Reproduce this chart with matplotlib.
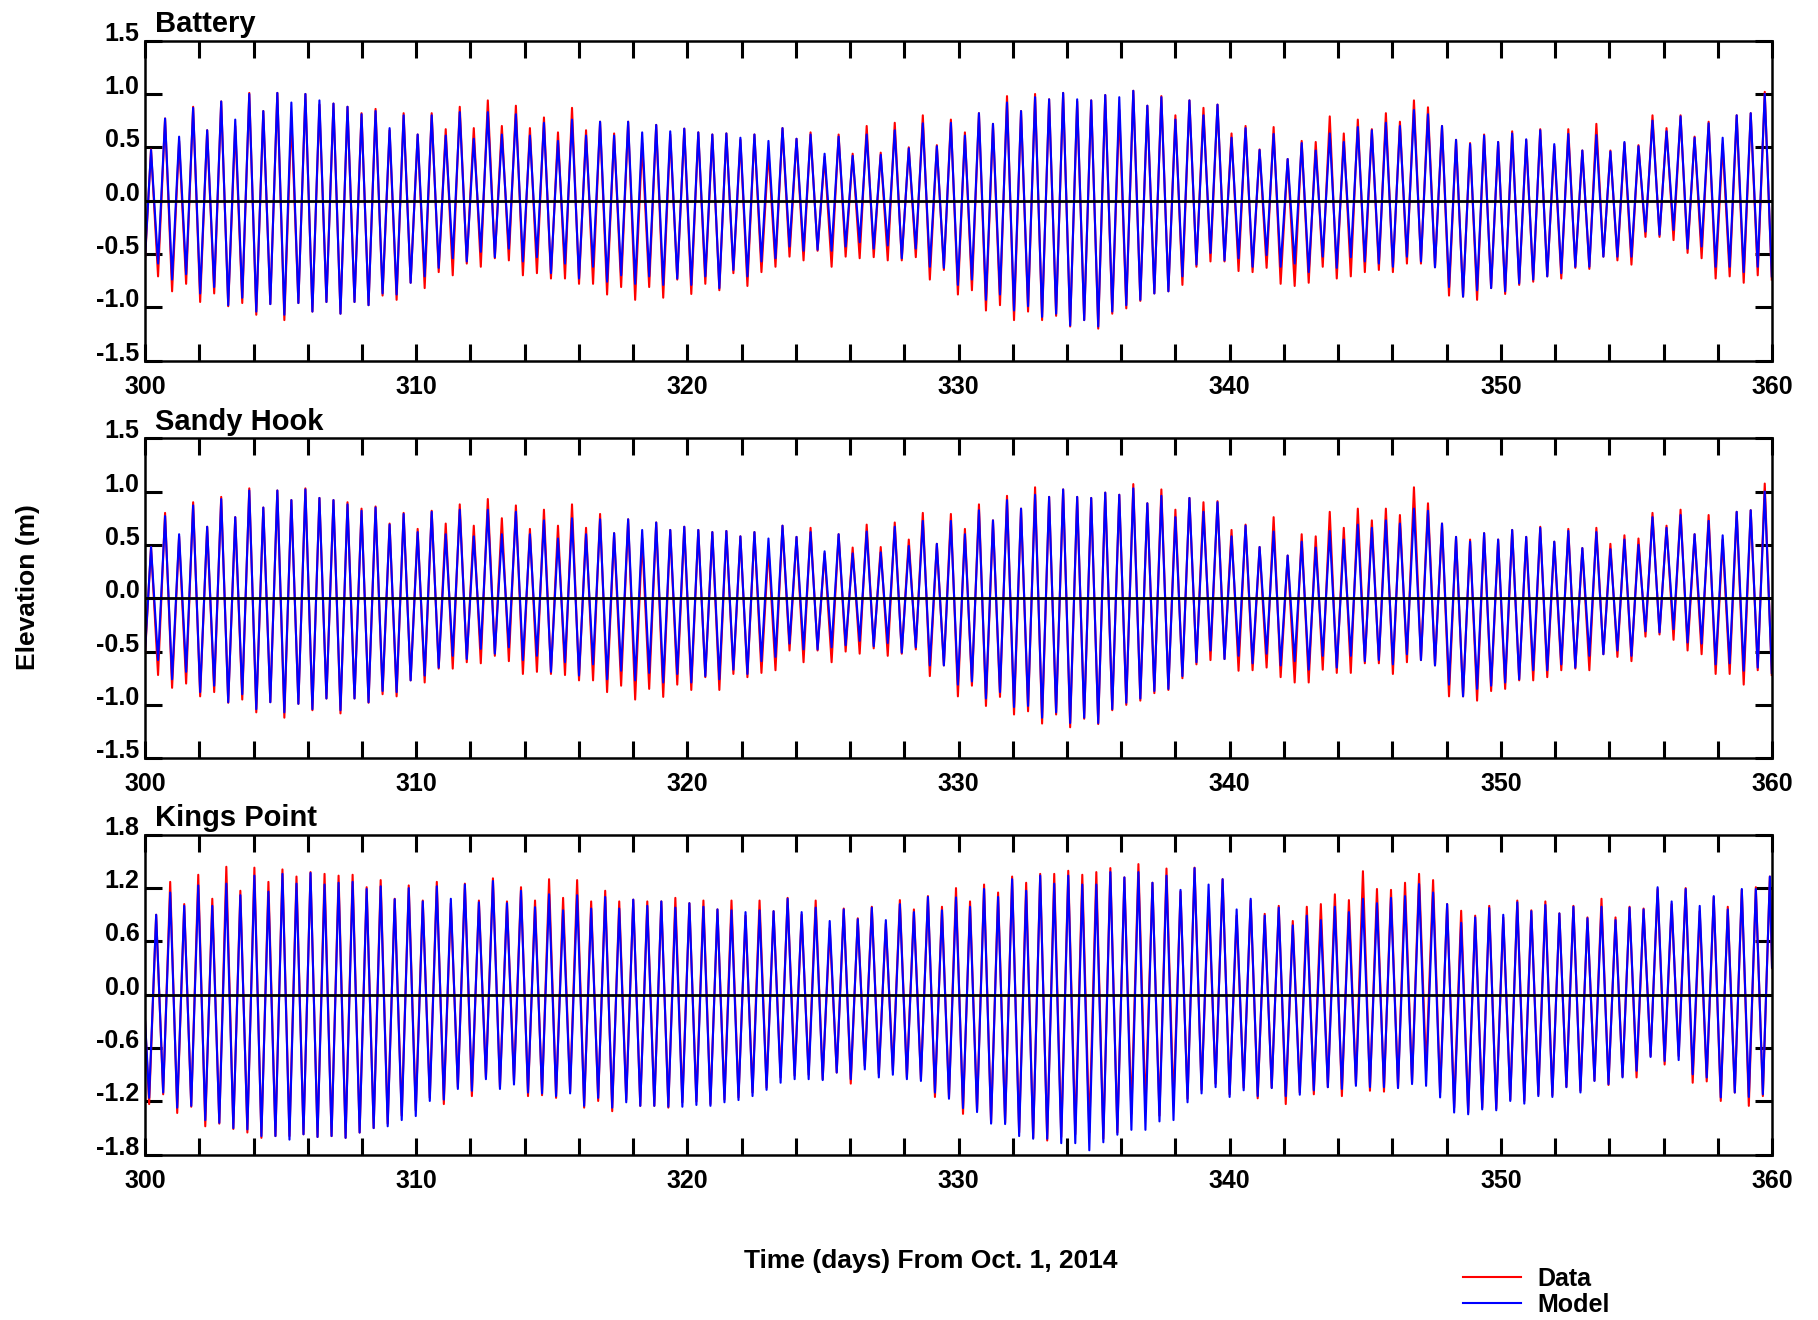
import numpy as np
import matplotlib
matplotlib.use("Agg")
import matplotlib.pyplot as plt
from matplotlib.ticker import MultipleLocator, FuncFormatter, FormatStrFormatter

plt.rcParams["font.family"] = ["Liberation Sans", "DejaVu Sans"]
plt.rcParams["font.weight"] = "bold"

# semi-diurnal (M2) period in days, high/low waters
M2 = 0.5175

# ---- Battery: first high water at day 300.22 ----
BAT_T_FIRST = 300.22
BAT_START_DATA, BAT_START_MODEL = -0.55, -0.52
BAT_HW_MODEL = [
    0.475, 0.77, 0.60, 0.87, 0.66, 0.93, 0.76, 1.00, 0.84, 1.01,
    0.92, 1.00, 0.94, 0.91, 0.88, 0.81, 0.84, 0.68, 0.80, 0.62,
    0.80, 0.61, 0.83, 0.58, 0.83, 0.62, 0.81, 0.61, 0.73, 0.56,
    0.76, 0.61, 0.74, 0.61,
    0.74, 0.64, 0.71, 0.65, 0.675, 0.64, 0.62, 0.63, 0.59,
    0.62, 0.56, 0.68, 0.58, 0.62, 0.44, 0.60, 0.42, 0.62, 0.43,
    0.66, 0.49, 0.725, 0.51, 0.73, 0.61, 0.82, 0.72, 0.92, 0.84,
    0.97, 0.95, 1.01, 0.95, 0.94, 0.99, 0.97, 1.03, 0.89, 0.97,
    0.76, 0.94, 0.80, 0.90,
    0.59, 0.68, 0.475, 0.625, 0.39, 0.54, 0.47, 0.63,
    0.55, 0.69, 0.66, 0.73, 0.70, 0.85, 0.81, 0.70, 0.57, 0.53,
    0.61, 0.55, 0.63, 0.575, 0.66, 0.53, 0.625, 0.47, 0.615, 0.46,
    0.55, 0.51, 0.75, 0.65, 0.79, 0.59, 0.725, 0.59, 0.80, 0.82,
    1.00]
BAT_HW_DATA = [
    0.48, 0.77, 0.56, 0.88, 0.66, 0.93, 0.70, 1.01, 0.84, 1.01,
    0.78, 1.00, 0.90, 0.91, 0.88, 0.82, 0.86, 0.66, 0.82, 0.62,
    0.82, 0.67, 0.88, 0.68, 0.94, 0.70, 0.89, 0.68, 0.78, 0.64,
    0.87, 0.66, 0.74, 0.63,
    0.74, 0.54, 0.71, 0.62, 0.675, 0.64, 0.62, 0.63, 0.57,
    0.62, 0.46, 0.68, 0.58, 0.64, 0.41, 0.62, 0.44, 0.70, 0.45,
    0.73, 0.50, 0.80, 0.52, 0.76, 0.64, 0.82, 0.72, 0.98, 0.84,
    1.00, 0.95, 1.01, 0.93, 0.94, 0.99, 0.85, 1.03, 0.89, 0.98,
    0.80, 0.94, 0.87, 0.90,
    0.63, 0.70, 0.48, 0.69, 0.39, 0.56, 0.55, 0.79,
    0.63, 0.76, 0.67, 0.82, 0.74, 0.94, 0.875, 0.70, 0.57, 0.54,
    0.62, 0.55, 0.65, 0.57, 0.67, 0.51, 0.67, 0.47, 0.72, 0.47,
    0.54, 0.52, 0.80, 0.68, 0.80, 0.60, 0.74, 0.53, 0.80, 0.82,
    1.02]
BAT_LW_MODEL = [
    -0.59, -0.74, -0.69, -0.87, -0.81, -0.98, -0.91, -1.04, -0.97, -1.07,
    -0.96, -1.04, -0.95, -1.06, -0.95, -0.98, -0.87, -0.88, -0.77, -0.71,
    -0.63, -0.54, -0.57, -0.48, -0.53, -0.45, -0.57, -0.53, -0.68, -0.59,
    -0.73, -0.62,
    -0.76, -0.70, -0.78, -0.71, -0.79, -0.73, -0.79, -0.71, -0.82, -0.65,
    -0.71, -0.57, -0.54, -0.43, -0.47, -0.46, -0.47, -0.43, -0.39, -0.45,
    -0.42, -0.54, -0.45, -0.62, -0.63, -0.79, -0.74, -0.93, -0.88, -1.03,
    -0.99, -1.09, -1.06, -1.17, -1.12, -1.18, -1.04, -0.98, -0.93, -0.87,
    -0.85, -0.71, -0.60, -0.49,
    -0.56, -0.54, -0.62, -0.51, -0.62, -0.59, -0.67, -0.525, -0.63, -0.53,
    -0.57, -0.59, -0.62, -0.525, -0.57, -0.625, -0.81, -0.90, -0.84, -0.82,
    -0.85, -0.775, -0.74, -0.71, -0.68, -0.62, -0.62, -0.525, -0.525, -0.525,
    -0.29, -0.32, -0.275, -0.45, -0.43, -0.62, -0.62, -0.67, -0.62, -0.71]
BAT_LW_DATA = [
    -0.71, -0.85, -0.78, -0.95, -0.87, -0.99, -0.96, -1.07, -0.97, -1.12,
    -0.96, -1.04, -0.95, -1.06, -0.95, -0.98, -0.89, -0.93, -0.77, -0.82,
    -0.67, -0.70, -0.59, -0.62, -0.54, -0.56, -0.70, -0.68, -0.73, -0.73,
    -0.78, -0.78,
    -0.88, -0.81, -0.93, -0.81, -0.91, -0.74, -0.875, -0.78, -0.84, -0.68,
    -0.80, -0.67, -0.62, -0.525, -0.56, -0.47, -0.62, -0.525, -0.54, -0.53,
    -0.56, -0.56, -0.53, -0.74, -0.65, -0.88, -0.84, -1.03, -0.98, -1.12,
    -1.04, -1.12, -1.08, -1.18, -1.12, -1.20, -1.06, -1.01, -0.94, -0.87,
    -0.85, -0.79, -0.62, -0.57,
    -0.57, -0.66, -0.67, -0.63, -0.78, -0.80, -0.77, -0.62, -0.73, -0.71,
    -0.67, -0.65, -0.67, -0.59, -0.59, -0.625, -0.89, -0.90, -0.93, -0.82,
    -0.875, -0.79, -0.76, -0.71, -0.73, -0.63, -0.64, -0.525, -0.56, -0.60,
    -0.34, -0.34, -0.37, -0.49, -0.54, -0.73, -0.71, -0.77, -0.70, -0.74]

# ---- Sandy Hook: first high water at day 300.22 ----
SH_T_FIRST = 300.22
SH_START_DATA, SH_START_MODEL = -0.52, -0.49
SH_HW_MODEL = [
    0.48, 0.77, 0.60, 0.87, 0.67, 0.93, 0.76, 1.01, 0.85, 1.01,
    0.92, 1.02, 0.94, 0.92, 0.88, 0.82, 0.85, 0.69, 0.79, 0.62,
    0.81, 0.60, 0.83, 0.58, 0.83, 0.60, 0.81, 0.60, 0.73, 0.56,
    0.75, 0.60, 0.74, 0.61,
    0.74, 0.64, 0.71, 0.64, 0.67, 0.64, 0.62, 0.63, 0.58, 0.62,
    0.56, 0.68, 0.575, 0.62, 0.44, 0.60, 0.42, 0.625, 0.43, 0.67,
    0.49, 0.725, 0.51, 0.725, 0.60, 0.825, 0.73, 0.92, 0.84, 0.97,
    0.95, 1.02, 0.95, 0.94, 0.99, 0.97, 1.03, 0.89, 0.96, 0.76,
    0.94, 0.81, 0.90,
    0.58, 0.68, 0.48, 0.625, 0.40, 0.53, 0.475, 0.63, 0.55, 0.69,
    0.66, 0.73, 0.70, 0.84, 0.82, 0.70, 0.575, 0.53, 0.61, 0.55,
    0.64, 0.575, 0.66, 0.53, 0.63, 0.47, 0.62, 0.46, 0.55, 0.50,
    0.76, 0.66, 0.78, 0.60, 0.725, 0.59, 0.81, 0.825, 1.00]
SH_HW_DATA = [
    0.48, 0.80, 0.58, 0.90, 0.67, 0.95, 0.76, 1.03, 0.85, 1.01,
    0.92, 1.03, 0.94, 0.92, 0.90, 0.84, 0.86, 0.70, 0.80, 0.65,
    0.82, 0.70, 0.88, 0.68, 0.93, 0.75, 0.87, 0.65, 0.83, 0.68,
    0.88, 0.66, 0.79, 0.61,
    0.74, 0.56, 0.71, 0.64, 0.67, 0.64, 0.62, 0.63, 0.58, 0.62,
    0.475, 0.68, 0.575, 0.66, 0.42, 0.60, 0.475, 0.69, 0.48, 0.71,
    0.55, 0.80, 0.51, 0.79, 0.65, 0.88, 0.73, 0.96, 0.84, 1.04,
    0.95, 1.02, 0.95, 0.94, 0.99, 0.97, 1.07, 0.89, 1.02, 0.83,
    0.94, 0.90, 0.91,
    0.64, 0.69, 0.48, 0.76, 0.40, 0.60, 0.58, 0.81, 0.66, 0.84,
    0.73, 0.84, 0.78, 1.04, 0.89, 0.70, 0.575, 0.55, 0.61, 0.55,
    0.64, 0.575, 0.67, 0.53, 0.65, 0.47, 0.66, 0.51, 0.59, 0.56,
    0.80, 0.68, 0.83, 0.60, 0.78, 0.55, 0.81, 0.825, 1.075]
SH_LW_MODEL = [
    -0.58, -0.76, -0.69, -0.88, -0.82, -0.975, -0.90, -1.04, -0.975, -1.07,
    -0.99, -1.04, -0.94, -1.05, -0.94, -0.975, -0.87, -0.88, -0.77, -0.725,
    -0.65, -0.54, -0.57, -0.475, -0.52, -0.46, -0.58, -0.54, -0.69, -0.60,
    -0.725, -0.62, -0.76,
    -0.68, -0.77, -0.70, -0.79, -0.71, -0.79, -0.73, -0.76, -0.67, -0.71,
    -0.59, -0.55, -0.425, -0.48, -0.48, -0.46, -0.44, -0.40, -0.45, -0.42,
    -0.51, -0.46, -0.63, -0.63, -0.81, -0.78, -0.94, -0.88, -1.02, -1.01,
    -1.12, -1.07, -1.17, -1.12, -1.17, -1.04, -0.98, -0.94, -0.87, -0.85,
    -0.73, -0.60, -0.49,
    -0.57, -0.54, -0.61, -0.52, -0.63, -0.59, -0.67, -0.54, -0.65, -0.54,
    -0.59, -0.58, -0.62, -0.525, -0.58, -0.63, -0.81, -0.92, -0.85, -0.82,
    -0.79, -0.76, -0.675, -0.675, -0.62, -0.65, -0.54, -0.525, -0.49, -0.54,
    -0.31, -0.32, -0.29, -0.415, -0.425, -0.62, -0.61, -0.68, -0.65, -0.70]
SH_LW_DATA = [
    -0.72, -0.84, -0.80, -0.92, -0.88, -0.98, -0.95, -1.07, -0.975, -1.12,
    -0.99, -1.05, -0.94, -1.08, -0.94, -0.98, -0.90, -0.92, -0.77, -0.79,
    -0.66, -0.66, -0.60, -0.61, -0.54, -0.59, -0.71, -0.69, -0.71, -0.72,
    -0.77, -0.77, -0.88,
    -0.82, -0.95, -0.85, -0.925, -0.81, -0.86, -0.74, -0.86, -0.71, -0.74,
    -0.70, -0.675, -0.49, -0.60, -0.49, -0.60, -0.50, -0.52, -0.47, -0.54,
    -0.52, -0.48, -0.73, -0.63, -0.92, -0.82, -1.01, -0.925, -1.09, -1.06,
    -1.175, -1.09, -1.21, -1.13, -1.18, -1.05, -1.00, -0.96, -0.89, -0.86,
    -0.75, -0.62, -0.58,
    -0.57, -0.68, -0.675, -0.65, -0.74, -0.79, -0.79, -0.67, -0.70, -0.70,
    -0.61, -0.61, -0.71, -0.60, -0.58, -0.63, -0.92, -0.92, -0.96, -0.87,
    -0.85, -0.77, -0.77, -0.74, -0.675, -0.66, -0.675, -0.525, -0.55, -0.59,
    -0.36, -0.34, -0.39, -0.49, -0.525, -0.71, -0.71, -0.81, -0.675, -0.72]

# ---- Kings Point: first low water at day 300.15 ----
KP_T_FIRST = 300.15
KP_START_DATA, KP_START_MODEL = -0.30, -0.29
KP_END_DATA, KP_END_MODEL = 0.30, 0.31
KP_LW_MODEL = [
    -1.16, -1.10, -1.27, -1.25, -1.41, -1.44, -1.50, -1.515, -1.59, -1.59,
    -1.63, -1.57, -1.60, -1.59, -1.61, -1.55, -1.50, -1.48, -1.41, -1.365,
    -1.195, -1.18, -1.06, -1.08, -0.95, -1.06, -1.01, -1.10, -1.11, -1.14,
    -1.11, -1.25, -1.16, -1.27,
    -1.21, -1.25, -1.25, -1.26, -1.26, -1.24, -1.25, -1.21, -1.185, -1.14,
    -1.07, -0.99, -0.95, -0.95, -0.96, -0.875, -0.95, -0.84, -0.93, -0.90,
    -0.95, -0.97, -1.10, -1.17, -1.275, -1.32, -1.45, -1.455, -1.59, -1.62,
    -1.62, -1.67, -1.67, -1.75, -1.66, -1.575, -1.52, -1.52, -1.425, -1.41,
    -1.21, -1.11, -1.04,
    -1.15, -1.075, -1.14, -1.05, -1.14, -1.125, -1.075, -1.04, -1.06, -1.025,
    -1.04, -1.04, -1.05, -1.005, -1.025, -1.155, -1.325, -1.345, -1.29, -1.30,
    -1.195, -1.225, -1.14, -1.15, -1.04, -1.10, -0.97, -1.005, -0.93, -0.855,
    -0.70, -0.745, -0.735, -0.895, -0.93, -1.155, -1.10, -1.15, -1.12]
KP_LW_DATA = [
    -1.23, -1.12, -1.33, -1.26, -1.48, -1.45, -1.51, -1.55, -1.61, -1.59,
    -1.59, -1.57, -1.60, -1.59, -1.61, -1.55, -1.50, -1.45, -1.36, -1.30,
    -1.16, -1.23, -1.04, -1.14, -0.93, -1.04, -0.97, -1.14, -1.13, -1.16,
    -1.09, -1.27, -1.195, -1.31,
    -1.18, -1.25, -1.25, -1.27, -1.21, -1.20, -1.23, -1.18, -1.155, -1.10,
    -1.045, -0.93, -0.91, -0.90, -0.95, -0.875, -1.00, -0.80, -0.89, -0.85,
    -0.93, -0.95, -1.15, -1.155, -1.34, -1.30, -1.44, -1.44, -1.55, -1.61,
    -1.64, -1.60, -1.57, -1.55, -1.62, -1.55, -1.34, -1.30, -1.36, -1.23,
    -1.17, -1.07, -1.00,
    -1.12, -1.045, -1.165, -1.045, -1.23, -1.10, -1.12, -1.04, -1.14, -1.005,
    -1.08, -1.09, -1.045, -0.99, -0.855, -1.10, -1.27, -1.325, -1.27, -1.28,
    -1.18, -1.195, -1.12, -1.13, -1.035, -1.08, -0.965, -1.015, -0.92, -0.93,
    -0.69, -0.785, -0.69, -0.99, -0.975, -1.195, -1.10, -1.25, -1.14]
KP_HW_MODEL = [
    0.90, 1.15, 1.00, 1.23, 1.00, 1.25, 1.12, 1.34, 1.16, 1.36,
    1.25, 1.37, 1.24, 1.26, 1.27, 1.19, 1.22, 1.075, 1.20, 1.05,
    1.22, 1.08, 1.24, 1.04, 1.28, 1.03, 1.17, 0.985, 1.13, 0.95,
    1.12, 0.97, 1.10, 0.97,
    1.07, 1.00, 1.05, 0.98, 1.03, 0.99, 0.96, 0.95, 0.93, 0.95,
    0.94, 1.08, 0.93, 0.98, 0.83, 0.96, 0.85, 0.98, 0.84, 1.02,
    0.93, 1.10, 0.95, 1.095, 0.99, 1.19, 1.10, 1.30, 1.17, 1.34,
    1.25, 1.34, 1.24, 1.24, 1.38, 1.32, 1.38, 1.26, 1.34, 1.18,
    1.425, 1.24,
    1.30, 0.96, 1.08, 0.89, 0.98, 0.78, 0.89, 0.84, 0.99, 0.93,
    1.08, 1.03, 1.09, 1.11, 1.245, 1.15, 1.02, 0.81, 0.87, 0.975,
    0.90, 1.04, 0.94, 1.01, 0.915, 0.99, 0.86, 0.99, 0.84, 0.98,
    0.96, 1.21, 1.05, 1.19, 1.00, 1.11, 0.96, 1.19, 1.19, 1.33]
KP_HW_DATA = [
    0.90, 1.27, 1.02, 1.35, 1.08, 1.44, 1.17, 1.43, 1.27, 1.41,
    1.33, 1.38, 1.36, 1.34, 1.35, 1.21, 1.29, 1.08, 1.23, 1.06,
    1.27, 1.03, 1.25, 1.06, 1.31, 1.05, 1.21, 1.06, 1.30, 1.09,
    1.29, 1.05, 1.17, 1.05,
    1.07, 1.05, 1.05, 1.09, 1.03, 1.06, 0.96, 1.06, 0.89, 1.06,
    0.94, 1.09, 0.90, 1.06, 0.75, 0.97, 0.86, 0.99, 0.80, 1.065,
    0.96, 1.11, 0.99, 1.20, 1.05, 1.24, 1.15, 1.33, 1.26, 1.36,
    1.36, 1.395, 1.35, 1.38, 1.425, 1.32, 1.47, 1.26, 1.42, 1.16,
    1.43, 1.10,
    1.30, 0.89, 1.06, 0.91, 1.00, 0.83, 0.99, 1.02, 1.13, 1.065,
    1.39, 1.19, 1.18, 1.26, 1.36, 1.29, 1.02, 0.945, 0.89, 1.00,
    0.87, 1.06, 0.95, 1.05, 0.915, 1.00, 0.87, 1.08, 0.87, 0.99,
    0.97, 1.19, 1.02, 1.20, 0.94, 1.10, 0.99, 1.18, 1.21, 1.33]

BAT_YTICKS = [-1.5, -1.0, -0.5, 0.0, 0.5, 1.0, 1.5]
KP_YTICKS = [-1.8, -1.2, -0.6, 0.0, 0.6, 1.2, 1.8]


def tide_curve(t_first, first, second, v_start, v_end=None):
    # alternate extremes: first[i] at t_first + i*M2, second[i] half a cycle later
    first = np.asarray(first, float)
    second = np.asarray(second, float)
    t1 = t_first + M2 * np.arange(len(first))
    t = np.column_stack([t1, t1 + M2 / 2]).ravel()
    v = np.column_stack([first, second]).ravel()
    t = np.r_[300.0, t]
    v = np.r_[v_start, v]
    if v_end is not None:
        t = np.r_[t, 360.0]
        v = np.r_[v, v_end]
    return t, v


panels = [
    ("Battery", BAT_YTICKS,
     tide_curve(BAT_T_FIRST, BAT_HW_DATA, BAT_LW_DATA, BAT_START_DATA),
     tide_curve(BAT_T_FIRST, BAT_HW_MODEL, BAT_LW_MODEL, BAT_START_MODEL)),
    ("Sandy Hook", BAT_YTICKS,
     tide_curve(SH_T_FIRST, SH_HW_DATA, SH_LW_DATA, SH_START_DATA),
     tide_curve(SH_T_FIRST, SH_HW_MODEL, SH_LW_MODEL, SH_START_MODEL)),
    ("Kings Point", KP_YTICKS,
     tide_curve(KP_T_FIRST, KP_LW_DATA, KP_HW_DATA, KP_START_DATA, KP_END_DATA),
     tide_curve(KP_T_FIRST, KP_LW_MODEL, KP_HW_MODEL, KP_START_MODEL, KP_END_MODEL)),
]

fig = plt.figure(figsize=(18.18, 13.2), dpi=100)
bottoms = [0.7268, 0.4256, 0.1252]
handles = None
for (name, yticks, (td, vd), (tm, vm)), b in zip(panels, bottoms):
    ax = fig.add_axes([0.0798, b, 0.8949, 0.2424])
    l_data, = ax.plot(td, vd, color="#ff0000", lw=1.5)
    l_model, = ax.plot(tm, vm, color="#0000ff", lw=1.5)
    handles = handles or [l_data, l_model]
    ax.axhline(0, color="black", lw=2.0, zorder=3)
    ax.set_xlim(300, 360)
    ax.set_ylim(yticks[0], yticks[-1])
    ax.xaxis.set_major_locator(MultipleLocator(2))
    ax.xaxis.set_major_formatter(
        FuncFormatter(lambda x, p: f"{x:.0f}" if round(x) % 10 == 0 else ""))
    ax.set_yticks(yticks)
    ax.yaxis.set_major_formatter(FormatStrFormatter("%.1f"))
    ax.tick_params(direction="in", length=12, width=2.2, top=True, right=True,
                   labelsize=18)
    ax.tick_params(axis="x", pad=10)
    ax.tick_params(axis="y", pad=4)
    for lab in ax.get_yticklabels():
        lab.set_va("baseline")
    for sp in ax.spines.values():
        sp.set_linewidth(1.8)
    ax.annotate(name, xy=(0, 1), xycoords="axes fraction", xytext=(7, 6),
                textcoords="offset points", fontsize=21, fontweight="bold",
                va="baseline")

fig.text(0.5121, 0.045, "Time (days) From Oct. 1, 2014", ha="center",
         va="center", fontsize=19, fontweight="bold")
fig.text(0.0155, 0.555, "Elevation (m)", rotation=90, ha="center",
         va="center", fontsize=19, fontweight="bold")
fig.legend(handles, ["Data", "Model"], loc="upper left",
           bbox_to_anchor=(0.805, 0.0405), frameon=False, borderpad=0,
           borderaxespad=0, handlelength=2.3, handletextpad=0.65,
           labelspacing=0.1, prop={"size": 18, "weight": "bold"})

fig.savefig("out.png", dpi=100)
